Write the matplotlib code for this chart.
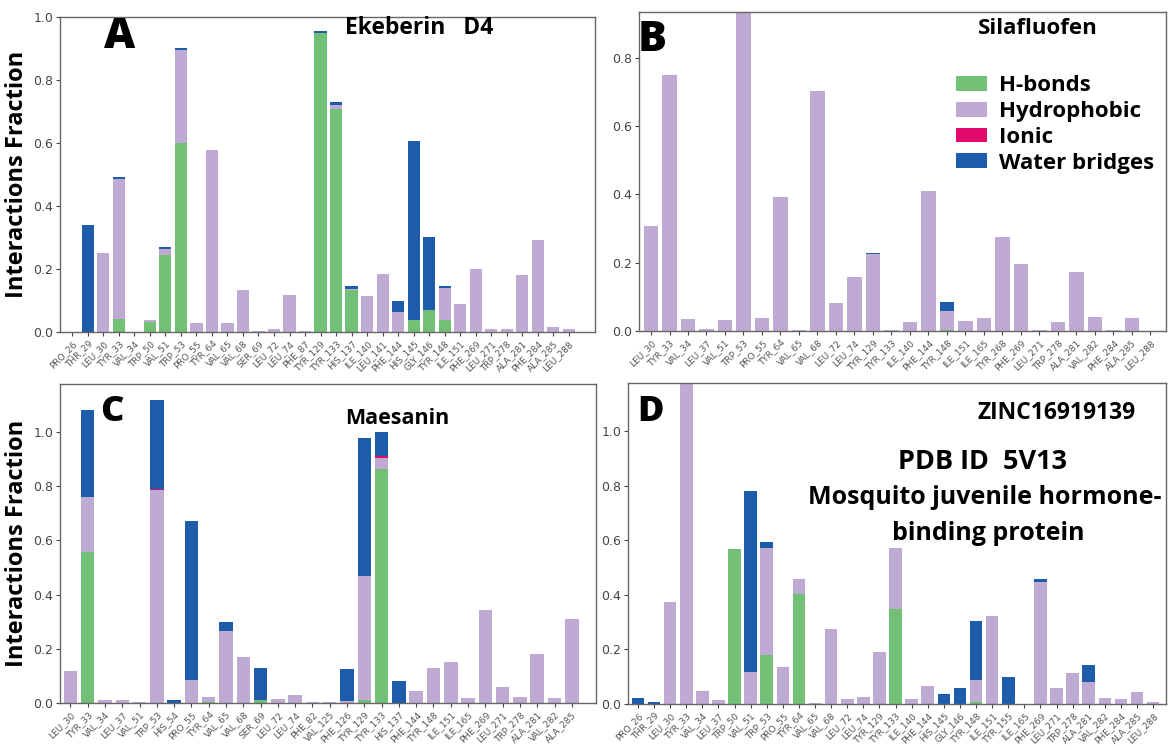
import matplotlib.pyplot as plt

W, H = 1170, 750

c_hb = '#72bf76'
c_hy = '#bfaad4'
c_io = '#e2096b'
c_wb = '#1c5cab'

# panel A - Ekeberin D4
res_a = ['PRO_26', 'THR_29', 'LEU_30', 'TYR_33', 'VAL_34', 'TRP_50', 'VAL_51', 'TRP_53', 'PRO_55',
         'TYR_64', 'VAL_65', 'VAL_68', 'SER_69', 'LEU_72', 'LEU_74', 'PHE_87', 'TYR_129', 'TYR_133',
         'HIS_137', 'ILE_140', 'LEU_141', 'PHE_144', 'HIS_145', 'GLY_146', 'TYR_148', 'ILE_151',
         'PHE_269', 'LEU_271', 'TRP_278', 'ALA_281', 'PHE_284', 'ALA_285', 'LEU_288']
hb_a = [0, 0, 0, 0.042, 0, 0.032, 0.244, 0.599, 0, 0, 0, 0, 0, 0, 0, 0, 0.948, 0.707,
        0.134, 0, 0, 0, 0.037, 0.069, 0.037, 0, 0, 0, 0, 0, 0, 0, 0]
hy_a = [0, 0, 0.25, 0.445, 0, 0.007, 0.019, 0.297, 0.027, 0.578, 0.027, 0.132, 0.003, 0.01, 0.118, 0.002,
        0, 0.015, 0.002, 0.115, 0.185, 0.063, 0.0, 0, 0.102, 0.088, 0.2, 0.01, 0.008, 0.18, 0.293, 0.017, 0.01]
io_a = [0] * 33
wb_a = [0, 0.341, 0, 0.006, 0, 0, 0.006, 0.007, 0, 0, 0, 0, 0, 0, 0, 0, 0.009, 0.008,
        0.009, 0, 0, 0.036, 0.569, 0.231, 0.008, 0, 0, 0, 0, 0, 0, 0, 0]

# panel B - Silafluofen
res_b = ['LEU_30', 'TYR_33', 'VAL_34', 'LEU_37', 'VAL_51', 'TRP_53', 'PRO_55', 'TYR_64', 'VAL_65',
         'VAL_68', 'LEU_72', 'LEU_74', 'TYR_129', 'TYR_133', 'ILE_140', 'PHE_144', 'TYR_148', 'ILE_151',
         'ILE_165', 'TYR_268', 'PHE_269', 'LEU_271', 'TRP_278', 'ALA_281', 'VAL_282', 'PHE_284',
         'ALA_285', 'LEU_288']
hb_b = [0] * 16 + [0.004] + [0] * 11
hy_b = [0.308, 0.749, 0.034, 0.007, 0.031, 1.0, 0.037, 0.391, 0.003, 0.702, 0.083, 0.159, 0.225,
        0.003, 0.027, 0.411, 0.056, 0.028, 0.039, 0.274, 0.196, 0.004, 0.025, 0.173, 0.042, 0.004,
        0.037, 0.0]
io_b = [0] * 28
wb_b = [0] * 12 + [0.004] + [0] * 3 + [0.025] + [0] * 11

# panel C - Maesanin
res_c = ['LEU_30', 'TYR_33', 'VAL_34', 'LEU_37', 'VAL_51', 'TRP_53', 'HIS_54', 'PRO_55', 'TYR_64',
         'VAL_65', 'VAL_68', 'SER_69', 'LEU_72', 'LEU_74', 'PHE_82', 'VAL_125', 'PHE_126', 'TYR_129',
         'TYR_133', 'HIS_137', 'PHE_144', 'TYR_148', 'ILE_151', 'ILE_165', 'PHE_269', 'LEU_271',
         'TRP_278', 'ALA_281', 'VAL_282', 'ALA_285']
hb_c = [0, 0.556, 0, 0, 0, 0, 0, 0, 0.004, 0, 0, 0.011, 0, 0, 0, 0, 0, 0.01,
        0.865, 0, 0, 0, 0, 0, 0, 0, 0, 0, 0, 0]
hy_c = [0.117, 0.204, 0.01, 0.01, 0.004, 0.785, 0, 0.086, 0.017, 0.267, 0.17, 0, 0.013, 0.029,
        0.002, 0.002, 0.006, 0.459, 0.039, 0, 0.044, 0.129, 0.152, 0.018, 0.344, 0.058, 0.023,
        0.179, 0.018, 0.309]
io_c = [0] * 5 + [0.006] + [0] * 12 + [0.006] + [0] * 11
wb_c = [0, 0.32, 0, 0, 0, 0.326, 0.01, 0.586, 0, 0.031, 0, 0.119, 0, 0, 0, 0.003, 0.12, 0.509,
        0.09, 0.083, 0, 0, 0, 0, 0, 0, 0, 0, 0, 0]

# panel D - ZINC16919139
res_d = ['PRO_26', 'THR_29', 'LEU_30', 'TYR_33', 'VAL_34', 'LEU_37', 'TRP_50', 'VAL_51', 'TRP_53',
         'PRO_55', 'TYR_64', 'VAL_65', 'VAL_68', 'LEU_72', 'LEU_74', 'TYR_129', 'TYR_133', 'ILE_140',
         'PHE_144', 'HIS_145', 'GLY_146', 'TYR_148', 'ILE_151', 'TYR_155', 'ILE_165', 'PHE_269',
         'LEU_271', 'TRP_278', 'ALA_281', 'VAL_282', 'PHE_284', 'ALA_285', 'LEU_288']
hb_d = [0, 0, 0, 0, 0, 0, 0.567, 0, 0.178, 0, 0.403, 0, 0, 0, 0, 0, 0.348, 0,
        0, 0, 0, 0.006, 0, 0, 0, 0, 0, 0, 0, 0, 0, 0, 0]
hy_d = [0, 0, 0.375, 1.3, 0.048, 0.015, 0, 0.117, 0.395, 0.134, 0.055, 0.005, 0.275, 0.017, 0.024,
        0.189, 0.222, 0.018, 0.067, 0, 0, 0.083, 0.321, 0, 0, 0.448, 0.059, 0.112, 0.081, 0.023,
        0.017, 0.044, 0.007]
io_d = [0] * 33
wb_d = [0.023, 0.006, 0, 0, 0, 0, 0, 0.663, 0.02, 0, 0, 0, 0, 0, 0, 0, 0, 0,
        0, 0.038, 0.059, 0.214, 0, 0.098, 0, 0.009, 0, 0.003, 0.061, 0, 0, 0, 0]


def fx(x):
    return x / W


def fy(y):
    return 1 - y / H


def draw(ax, res, hb, hy, io, wb, xlim, ylim, yticks):
    x = list(range(len(res)))
    b1 = hb
    b2 = [a + b for a, b in zip(b1, hy)]
    b3 = [a + b for a, b in zip(b2, io)]
    w = 0.78
    ax.bar(x, hb, width=w, color=c_hb, label='H-bonds')
    ax.bar(x, hy, width=w, bottom=b1, color=c_hy, label='Hydrophobic')
    ax.bar(x, io, width=w, bottom=b2, color=c_io, label='Ionic')
    ax.bar(x, wb, width=w, bottom=b3, color=c_wb, label='Water bridges')
    ax.set_xlim(*xlim)
    ax.set_ylim(*ylim)
    ax.set_yticks(yticks)
    ax.set_yticklabels(['%.1f' % t for t in yticks], fontsize=9, color='#444444')
    ax.set_xticks(x)
    ax.set_xticklabels(res, rotation=45, ha='right', va='top', rotation_mode='anchor',
                       fontsize=6.5, color='#555555')
    ax.tick_params(axis='x', length=3, pad=2, color='#444444')
    ax.tick_params(axis='y', length=3, pad=2, color='#444444')
    for s in ax.spines.values():
        s.set_color('#666666')
        s.set_linewidth(1.0)


fig = plt.figure(figsize=(11.7, 7.5), dpi=100)

ax_a = fig.add_axes([fx(60), fy(332), fx(535), 315 / H])
ax_b = fig.add_axes([fx(639), fy(331), fx(527), 319 / H])
ax_c = fig.add_axes([fx(60), fy(703), fx(536), 319 / H])
ax_d = fig.add_axes([fx(628), fy(704), fx(538), 321 / H])

draw(ax_a, res_a, hb_a, hy_a, io_a, wb_a, (-0.8, 33.7), (0, 1.0), [0, 0.2, 0.4, 0.6, 0.8, 1.0])
draw(ax_b, res_b, hb_b, hy_b, io_b, wb_b, (-0.65, 27.85), (0, 0.934), [0, 0.2, 0.4, 0.6, 0.8])
draw(ax_c, res_c, hb_c, hy_c, io_c, wb_c, (-0.6, 30.4), (0, 1.177), [0, 0.2, 0.4, 0.6, 0.8, 1.0])
draw(ax_d, res_d, hb_d, hy_d, io_d, wb_d, (-0.62, 32.8), (0, 1.176), [0, 0.2, 0.4, 0.6, 0.8, 1.0])

lab_font = ['Open Sans', 'DejaVu Sans']
for ax in (ax_a, ax_c):
    ax.set_ylabel('Interactions Fraction', fontsize=17, fontweight='bold', family=lab_font)
    ax.yaxis.set_label_coords(-0.058, 0.5)

ann = ['Open Sans', 'DejaVu Sans']
fig.text(fx(120), fy(37), 'A', fontsize=31, fontweight='heavy', family=ann, ha='center', va='center')
fig.text(fx(345), fy(28), 'Ekeberin   D4', fontsize=16.5, fontweight='bold', family=ann, va='center')
fig.text(fx(638), fy(40), 'B', fontsize=31, fontweight='heavy', family=ann, va='center')
fig.text(fx(978), fy(28), 'Silafluofen', fontsize=16, fontweight='bold', family=ann, va='center')
fig.text(fx(112), fy(412), 'C', fontsize=26, fontweight='heavy', family=ann, ha='center', va='center')
fig.text(fx(345), fy(418), 'Maesanin', fontsize=15.5, fontweight='bold', family=ann, va='center')
fig.text(fx(651), fy(412), 'D', fontsize=26, fontweight='heavy', family=ann, ha='center', va='center')
fig.text(fx(978), fy(413), 'ZINC16919139', fontsize=16.5, fontweight='bold', family=ann, va='center')
fig.text(fx(983), fy(462), 'PDB ID  5V13', fontsize=19.5, fontweight='bold', family=ann,
         ha='center', va='center')
fig.text(fx(985), fy(498), 'Mosquito juvenile hormone-', fontsize=18, fontweight='bold', family=ann,
         ha='center', va='center')
fig.text(fx(988), fy(533), 'binding protein', fontsize=18, fontweight='bold', family=ann,
         ha='center', va='center')

handles, labels = ax_b.get_legend_handles_labels()
ax_b.legend(handles, labels, loc='upper left', bbox_to_anchor=(fx(956 - 639) / fx(527), 1 - (75 - 12) / 319),
            frameon=False, handlelength=1.4, handleheight=0.65, handletextpad=0.55, labelspacing=0.22,
            prop={'family': ann, 'weight': 'bold', 'size': 16}, borderpad=0, borderaxespad=0)

fig.savefig('out.png', dpi=100)
